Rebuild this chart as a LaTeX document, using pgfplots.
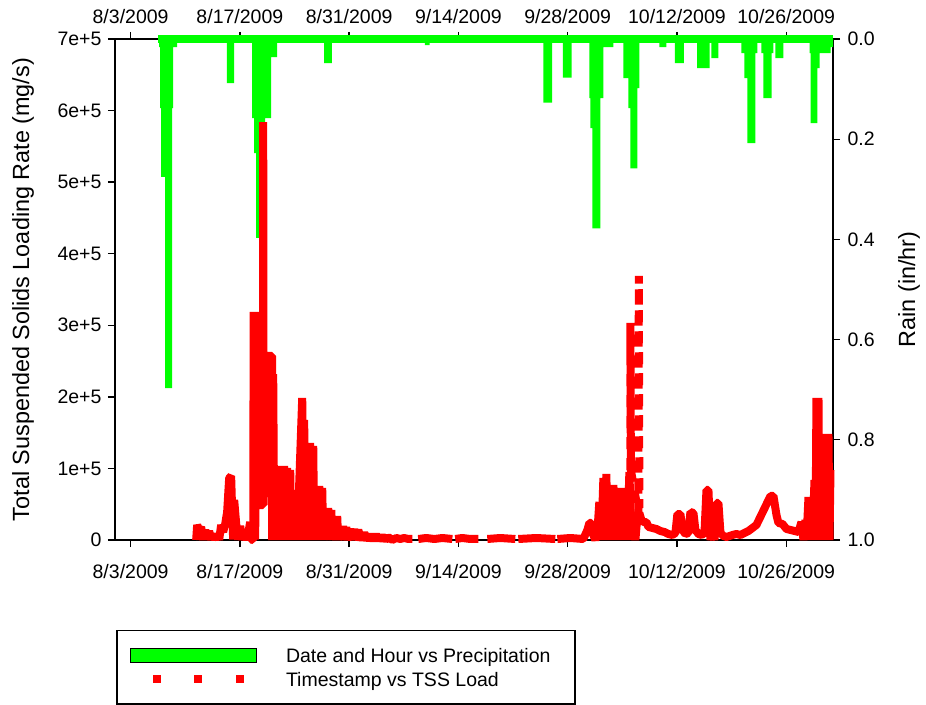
\documentclass[border=0pt]{standalone}
\usepackage{fontspec}
\setmainfont{Liberation Sans}
\usepackage{pgfplots}
\pgfplotsset{compat=1.18}

\definecolor{rainGreen}{RGB}{0,255,0}
\definecolor{tssRed}{RGB}{255,0,0}

% x values are days counted from 8/3/2009
\pgfplotsset{
  base axis/.style={
    scale only axis, width=718pt, height=501pt,
    at={(0pt,0pt)}, anchor=south west,
    xmin=-2, xmax=90, clip=false,
    xtick={0,14,...,84},
    xticklabels={8/3/2009,8/17/2009,8/31/2009,9/14/2009,9/28/2009,10/12/2009,10/26/2009},
    tick align=outside, major tick length=7pt,
    axis line style={line width=1.3pt, black},
    tick style={line width=1.3pt, black},
    tick label style={font=\fontsize{19.5}{23}\selectfont, black},
    scaled ticks=false,
    /pgf/number format/assume math mode=true,
    unbounded coords=jump,
  }
}

\begin{document}
\begin{tikzpicture}
\useasboundingbox (-115pt,-164pt) rectangle (811pt,540pt);

% ---- precipitation (right axis, reversed) ----
\begin{axis}[base axis,
  axis x line*=top, axis y line*=right,
  y dir=reverse, ymin=0, ymax=1,
  ytick={0,0.2,0.4,0.6,0.8,1.0},
  yticklabels={0.0,0.2,0.4,0.6,0.8,1.0},
  xticklabel style={yshift=5pt},
  yticklabel style={xshift=4pt},
  every axis y label/.style={at={(axis description cs:1.1058,0.5)}, anchor=center, rotate=90,
    font=\fontsize{23.4}{28}\selectfont},
  ylabel={Rain (in/hr)},
]
\addplot[fill=rainGreen, draw=none, const plot mark left] table {
3.53 0
3.65 0.016
3.78 0.138
3.91 0.275
4.42 0.697
5.32 0.138
5.45 0.016
5.96 0
12.33 0.088
13.27 0
15.58 0.158
15.83 0.228
16.09 0.397
16.60 0.228
17.24 0.158
18.01 0.036
18.78 0
24.80 0.048
25.80 0
37.70 0.012
38.30 0
52.90 0.127
54.00 0
55.40 0.077
56.50 0
58.78 0.118
58.91 0.178
59.17 0.378
60.19 0.118
60.58 0.016
61.86 0
63.14 0.078
63.78 0.138
64.04 0.258
64.94 0.098
65.19 0
67.75 0.016
68.65 0
69.74 0.048
70.90 0
72.60 0.058
74.20 0
74.42 0.038
75.32 0
78.27 0.028
78.65 0.078
79.04 0.208
80.06 0.028
80.32 0
80.83 0.028
81.09 0.118
82.12 0.028
82.37 0
82.63 0.038
83.65 0
87.00 0.028
87.12 0.168
88.01 0.058
88.27 0.028
89.68 0.016
90.00 0
} \closedcycle;
\addplot[rainGreen, line width=8pt] coordinates {(3.53,0) (90,0)};
\end{axis}

% ---- TSS load (left axis) ----
\begin{axis}[base axis,
  axis x line*=bottom, axis y line*=left,
  ymin=0, ymax=700000,
  ytick={0,100000,200000,300000,400000,500000,600000,700000},
  yticklabels={0,1e+5,2e+5,3e+5,4e+5,5e+5,6e+5,7e+5},
  xticklabel style={yshift=-14pt},
  yticklabel style={xshift=-3pt},
  every axis y label/.style={at={(axis description cs:-0.1281,0.5)}, anchor=center, rotate=90,
    font=\fontsize{23.4}{28}\selectfont},
  ylabel={Total Suspended Solids Loading Rate (mg/s)},
  legend cell align=left,
  legend style={at={(axis description cs:0.0014,-0.1796)}, anchor=north west,
    draw=black, line width=1.5pt, fill=white,
    inner xsep=13pt, inner ysep=16pt, row sep=5.5pt, column sep=29pt,
    font=\fontsize{19.5}{23}\selectfont,
    nodes={inner sep=0pt, text height=16pt, text depth=2pt}},
]
\addlegendimage{legend image code/.code={
  \draw[fill=rainGreen, draw=black, line width=1.3pt] (0pt,-7pt) rectangle (126pt,7pt);}}
\addlegendentry{\makebox[276pt][l]{Date and Hour vs Precipitation}}

\addplot[tssRed, line width=8pt, line join=bevel,
  legend image code/.code={
    \path[draw=none, fill=none] (0pt,-7pt) rectangle (126pt,7pt);
    \fill[tssRed, draw=none] (23pt,-4pt) rectangle (31pt,4pt);
    \fill[tssRed, draw=none] (64pt,-4pt) rectangle (72pt,4pt);
    \fill[tssRed, draw=none] (106pt,-4pt) rectangle (114pt,4pt);}]
table {
8.40 0
8.53 21000
8.78 14000
9.04 18200
9.29 500
9.55 14000
9.81 2800
10.06 12600
10.32 600
10.58 8400
10.83 500
11.09 8400
11.35 400
11.60 21000
11.86 11200
12.12 22400
12.37 39100
12.63 86600
12.88 89400
13.01 41900
13.14 800
13.27 55900
13.53 22400
13.78 500
14.04 19600
14.29 300
14.55 11200
14.81 400
15.06 8400
15.32 25100
15.45 600
15.71 0
15.77 318600
15.96 500
16.15 318600
16.35 48900
16.99 48900
16.99 584000
17.05 48900
17.24 257100
18.14 257100
18.14 0
18.27 231900
18.40 0
18.53 100600
18.65 0
18.91 103400
19.04 0
19.29 97800
19.42 0
19.68 103400
19.81 0
20.06 100600
20.19 0
20.45 97800
20.58 0
20.83 58700
20.96 0
21.22 55900
21.35 0
21.99 198400
22.12 0
22.24 167700
22.37 0
22.63 135500
22.76 0
23.01 135500
23.14 0
23.40 131300
23.53 0
23.78 75400
23.91 0
24.17 75400
24.29 0
24.55 72700
24.68 0
24.94 44700
25.06 0
25.32 44700
25.45 0
25.71 41900
25.83 0
26.09 33500
26.22 0
26.47 33500
26.60 0
26.86 19600
26.99 0
27.24 19600
27.37 0
27.63 18200
27.76 0
28.14 15400
28.40 0
28.65 15400
28.91 0
29.17 14000
29.55 0
29.94 9800
30.32 0
30.71 7000
31.09 0
31.47 7000
31.86 0
32.24 5600
32.63 0
33.01 4200
33.53 0
34.04 2800
34.55 1400
35.06 2800
35.58 1400
36.09 1400
36.50 nan
36.86 1400
37.88 2800
38.91 1400
39.94 2800
41.22 1400
41.40 nan
41.60 1400
42.50 2800
43.53 1400
44.55 1400
45.00 nan
45.71 1400
47.37 2800
49.29 1400
49.50 nan
49.68 1400
51.99 2800
54.42 1400
54.55 nan
54.68 1400
56.35 2800
58.01 1400
58.53 14000
58.78 23800
59.04 23800
59.29 7000
59.55 0
59.81 11200
60.06 53100
60.32 0
60.58 86600
60.71 0
60.96 92200
61.09 7000
61.35 58700
61.60 0
61.86 76800
62.12 14000
62.37 48900
62.63 0
62.88 72700
63.14 0
63.40 48900
63.65 0
63.91 95000
64.17 0
64.42 39100
64.68 0
64.94 34900
65.19 37700
65.45 27900
65.71 25100
66.09 25100
66.35 18200
66.86 16800
67.37 15400
67.88 12600
68.40 11200
68.91 8400
69.42 7000
69.81 9800
70.06 36300
70.45 36300
70.71 14000
71.09 8400
71.47 9800
71.73 39100
72.12 37700
72.37 14000
72.76 8400
73.14 7000
73.53 9800
73.79 69900
74.04 69900
74.29 0
74.55 14000
74.81 0
75.06 51700
75.32 51700
75.58 9800
75.96 5600
76.35 4200
76.73 5600
77.12 7000
77.63 8400
78.14 7000
78.65 9800
79.17 12600
79.68 16800
80.19 21000
81.99 61500
82.37 61500
82.76 34900
83.01 23800
83.53 22400
84.04 15400
84.55 14000
85.06 12600
85.58 11200
85.96 25100
86.22 0
86.47 27900
86.60 0
86.86 60100
87.00 0
87.24 58700
87.37 0
87.63 83800
87.76 0
87.88 198400
88.01 0
88.14 198400
88.27 0
88.40 97800
88.53 0
88.78 148100
88.91 0
89.17 148100
89.29 0
89.42 148100
89.55 0
89.68 97800
};
\addlegendentry{\makebox[276pt][l]{Timestamp vs TSS Load}}

% the sharp early-October peak, drawn in the series' dashed style
\addplot[tssRed, line width=8pt, line join=bevel, dash pattern=on 12pt off 9pt, forget plot]
table {
64.04 97800
64.04 303200
64.10 97800
65.06 37700
65.12 368900
65.19 44700
};
\end{axis}
\end{tikzpicture}
\end{document}
